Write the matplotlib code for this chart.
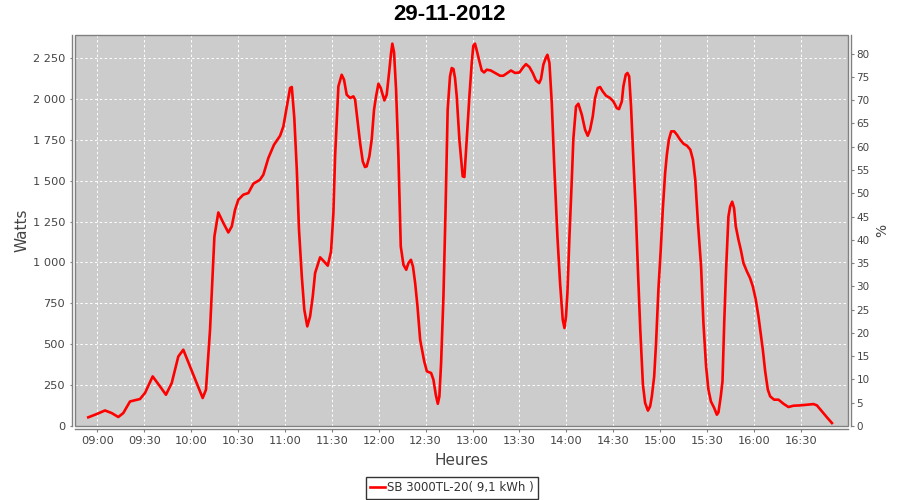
import matplotlib
matplotlib.use("Agg")
import matplotlib.pyplot as plt
from matplotlib.patches import Rectangle
from matplotlib.lines import Line2D

title = "29-11-2012"
series_label = "SB 3000TL-20( 9,1 kWh )"

# minutes after 09:00
minutes = [-5.8, -0.4, 4.9, 9.2, 13.4, 16.6, 20.9, 27.3, 30.5, 35.4, 40.1, 43.9, 47.6, 51.8, 55.0,
           59.3, 63.6, 67.4, 69.5, 72.1, 74.9, 77.4, 80.6, 83.8, 86.0, 88.1, 90.2, 93.4, 96.6, 99.8,
           104.0, 106.2, 109.4, 113.0, 116.9, 119.0, 120.7, 123.3, 124.4, 126.0, 127.6, 129.0, 130.8,
           132.4, 134.3, 136.1, 137.8, 139.3, 142.5, 144.6, 147.4, 149.5, 151.0, 152.1, 154.2, 156.3,
           157.8, 159.5, 161.7, 163.8, 164.9, 166.4, 168.1, 169.8, 171.2, 172.3, 174.0, 175.5, 177.0,
           178.3, 179.8, 181.3, 183.6, 185.1, 186.6, 187.9, 188.7, 189.8, 191.1, 192.6, 194.1, 195.8,
           197.6, 199.0, 200.6, 201.9, 203.3, 204.8, 206.5, 209.1, 210.8, 213.5, 215.0, 216.5, 217.8,
           218.8, 219.9, 221.4, 222.7, 224.1, 225.6, 226.7, 227.8, 228.8, 229.9, 231.6, 233.7, 234.8,
           236.3, 238.0, 239.5, 240.5, 241.6, 242.7, 244.4, 245.9, 247.4, 249.1, 251.7, 254.4, 257.6,
           259.7, 262.3, 264.6, 267.2, 270.0, 272.5, 274.2, 276.4, 278.5, 280.6, 282.6, 283.8, 285.3,
           286.8, 287.9, 289.2, 290.7, 292.2, 294.3, 296.0, 297.7, 298.8, 299.8, 300.7, 302.0, 303.5,
           304.5, 306.2, 307.7, 309.9, 312.0, 313.7, 315.2, 316.9, 318.4, 320.1, 321.6, 323.3, 325.4,
           328.0, 330.1, 332.3, 333.7, 335.5, 336.5, 338.0, 339.1, 340.2, 341.4, 343.0, 344.4, 345.8,
           347.3, 349.0, 350.4, 352.2, 353.6, 354.7, 356.2, 357.4, 358.9, 360.4, 361.7, 363.2, 364.3,
           365.6, 367.1, 369.0, 370.7, 372.8, 375.0, 377.2, 379.3, 381.0, 382.5, 384.2, 386.2, 387.7,
           389.4, 390.9, 392.5, 394.6, 396.3, 397.3, 398.8, 399.9, 401.0, 402.2, 403.7, 404.8, 406.1,
           407.3, 408.4, 410.1, 411.6, 413.3, 415.5, 417.5, 419.3, 421.2, 422.9, 424.0, 425.7, 427.2,
           428.9, 430.4, 432.9, 435.7, 438.9, 442.1, 445.3, 449.6, 453.9, 458.1, 460.3, 463.5, 466.7,
           469.9]
watts = [53, 73, 95, 79, 55, 79, 150, 165, 202, 303, 242, 191, 263, 425, 466,
         364, 263, 171, 222, 589, 1159, 1305, 1241, 1183, 1220, 1322, 1383, 1414, 1424, 1481,
         1505, 1536, 1638, 1719, 1774, 1831, 1923, 2066, 2072, 1883, 1567, 1200, 914,
         711, 609, 670, 792, 935, 1031, 1010, 980, 1067, 1300, 1650, 2076, 2147,
         2117, 2025, 2005, 2015, 1994, 1872, 1730, 1617, 1583, 1587, 1648, 1750, 1933,
         2015, 2092, 2066, 1990, 2025, 2158, 2280, 2337, 2284, 2055, 1648, 1098, 986,
         955, 996, 1016, 975, 874, 731, 527, 395, 334, 324, 283, 191, 136,
         181, 385, 792, 1302, 1933, 2137, 2188, 2182, 2127, 2015, 1750, 1526, 1522,
         1750, 2015, 2219, 2324, 2337, 2296, 2229, 2173, 2161, 2178, 2173, 2158, 2141,
         2141, 2158, 2173, 2158, 2161, 2194, 2212, 2194, 2158, 2112, 2096, 2121, 2208,
         2249, 2269, 2219, 1974, 1607, 1159, 874, 650, 599, 670, 813, 1159, 1505,
         1755, 1953, 1970, 1903, 1811, 1774, 1811, 1892, 2005, 2066, 2072, 2045, 2019,
         2005, 1984, 1943, 1937, 1984, 2076, 2147, 2158, 2137, 1953, 1607, 1322, 955,
         589, 252, 141, 94, 120, 181, 303, 507, 833, 1078, 1322, 1546, 1658,
         1750, 1801, 1801, 1781, 1750, 1725, 1713, 1689, 1628, 1505, 1241, 975, 630,
         364, 222, 150, 110, 69, 83, 181, 273, 630, 955, 1281, 1342, 1371,
         1332, 1220, 1139, 1078, 996, 945, 905, 853, 772, 670, 589, 466, 334,
         222, 181, 161, 161, 136, 116, 124, 126, 130, 134, 126, 89, 53,
         18]

x_tick_labels = ["09:00", "09:30", "10:00", "10:30", "11:00", "11:30", "12:00", "12:30",
                 "13:00", "13:30", "14:00", "14:30", "15:00", "15:30", "16:00", "16:30"]
watt_ticks = [0, 250, 500, 750, 1000, 1250, 1500, 1750, 2000, 2250]
pct_ticks = [0, 5, 10, 15, 20, 25, 30, 35, 40, 45, 50, 55, 60, 65, 70, 75, 80]

W_MAX = 2390
NOMINAL = 2845  # watts for 100 %

hours = [9 + m / 60 for m in minutes]
x_ticks = [int(s[:2]) + int(s[3:]) / 60 for s in x_tick_labels]

plt.rcParams['font.family'] = ['DejaVu Sans']
fig = plt.figure(figsize=(9, 5), dpi=100)
ax = fig.add_axes([75 / 900, 1 - 426 / 500, (848 - 75) / 900, (426 - 35) / 500])
ax.set_facecolor('#cccccc')

gray = '#808080'
txt = '#444444'

ax.plot(hours, watts, color='#ff0000', lw=1.9, solid_joinstyle='round', zorder=3)

ax.set_xlim(8.762, 17.003)
ax.set_ylim(0, W_MAX)
ax.set_xticks(x_ticks)
ax.set_xticklabels(x_tick_labels)
ax.set_yticks(watt_ticks)
ax.set_yticklabels([f"{v:,}".replace(",", " ") for v in watt_ticks])
ax.grid(True, color='white', ls=(0, (2.5, 2.5)), lw=0.7)
ax.set_axisbelow(True)

# plot border
ax.add_patch(Rectangle((0, 0), 1, 1, transform=ax.transAxes, fill=False,
                       edgecolor=gray, lw=1.0, zorder=5, clip_on=False))

for side in ['top', 'right']:
    ax.spines[side].set_visible(False)
for side in ['left', 'bottom']:
    ax.spines[side].set_position(('outward', 2.3))
    ax.spines[side].set_color(gray)
    ax.spines[side].set_linewidth(1.0)
ax.tick_params(direction='out', length=1.8, width=0.8, color=gray, labelcolor=txt,
               labelsize=8.2, pad=3)

ax.set_xlabel("Heures", fontsize=11, color=txt, labelpad=5)
ax.set_ylabel("Watts", fontsize=11, color=txt, labelpad=2)

ax2 = ax.twinx()
ax2.set_ylim(0, W_MAX / NOMINAL * 100)
ax2.set_yticks(pct_ticks)
ax2.set_yticklabels([str(v) for v in pct_ticks])
for side in ['top', 'left', 'bottom']:
    ax2.spines[side].set_visible(False)
ax2.spines['right'].set_position(('outward', 2.3))
ax2.spines['right'].set_color(gray)
ax2.spines['right'].set_linewidth(1.0)
ax2.tick_params(direction='out', length=1.8, width=0.8, color=gray, labelcolor=txt,
                labelsize=7.5, pad=2)
ax2.set_ylabel("%", fontsize=10, color=txt, labelpad=4)

fig.text(0.5, 1 - 14 / 500, title, ha='center', va='center', fontsize=16,
         fontweight='bold', family=['Liberation Sans', 'DejaVu Sans'], color='black')

handle = Line2D([], [], color='#ff0000', lw=1.9)
leg = fig.legend([handle], [series_label], loc='center', bbox_to_anchor=(452 / 900, 1 - 488 / 500),
                 frameon=True, fancybox=False, fontsize=8.5, handlelength=1.2,
                 handletextpad=0.2, borderpad=0.35, borderaxespad=0)
leg.get_frame().set_edgecolor('black')
leg.get_frame().set_linewidth(1.0)
for t in leg.get_texts():
    t.set_color('#333333')

fig.savefig("out.png", dpi=100)
